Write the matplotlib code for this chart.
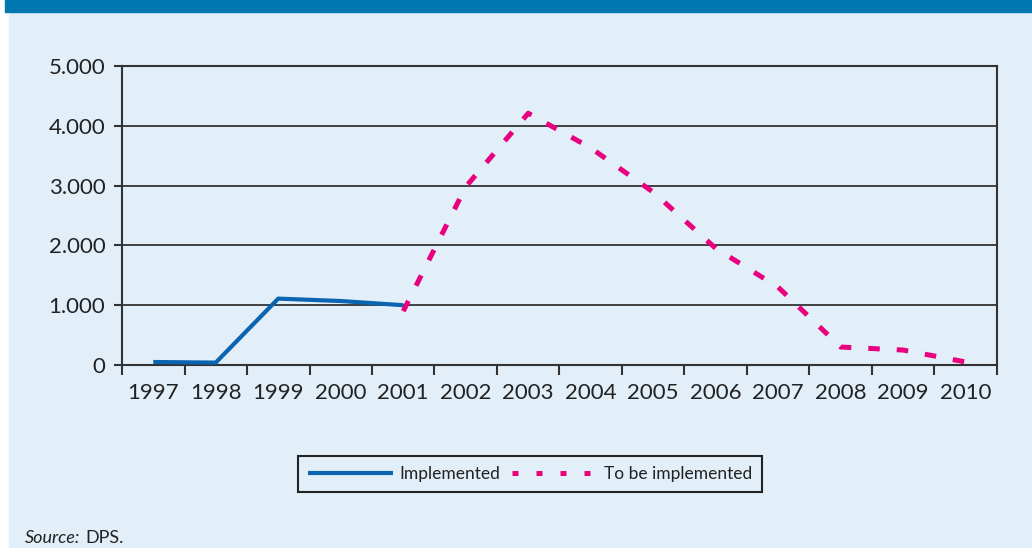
import matplotlib.pyplot as plt
from matplotlib.patches import Rectangle
from matplotlib.ticker import FixedLocator, FuncFormatter

years = ['1997', '1998', '1999', '2000', '2001', '2002', '2003',
         '2004', '2005', '2006', '2007', '2008', '2009', '2010']
implemented = [50, 40, 1110, 1070, 1000]
to_be_implemented = [900, 2980, 4210, 3630, 2890, 1950, 1300, 300, 250, 50]
y_ticks = [0, 1000, 2000, 3000, 4000, 5000]

bg = '#e2eff8'
blue = '#0a64b0'
magenta = '#e8007f'

plt.rcParams['font.family'] = ['Lato', 'DejaVu Sans']

fig = plt.figure(figsize=(10.32, 5.58), dpi=100)
fig.patch.set_facecolor('white')
# panel background and top band
fig.patches.append(Rectangle((9 / 1032, 1 - 547 / 558), 1, (547 - 12) / 558,
                             transform=fig.transFigure, color=bg, zorder=-10))
fig.patches.append(Rectangle((5 / 1032, 1 - 12 / 558), 1, 12 / 558,
                             transform=fig.transFigure, color='#0077b0', zorder=-10))

ax = fig.add_axes([122 / 1032, 1 - 365 / 558, 875 / 1032, 299 / 558])
ax.set_facecolor(bg)
ax.set_zorder(2)

x_impl = list(range(len(implemented)))
x_tbi = list(range(len(implemented) - 1, len(years)))
ax.plot(x_impl, implemented, color=blue, lw=3, solid_capstyle='butt',
        label='Implemented', zorder=3)
ax.plot(x_tbi, to_be_implemented, color=magenta, lw=3.6,
        linestyle=(0, (2.3, 3.4)), dash_capstyle='butt',
        label='To be implemented', zorder=3)

ax.set_xlim(-0.5, len(years) - 0.5)
ax.set_ylim(0, 5000)
ax.set_xticks(range(len(years)))
ax.set_xticklabels(years)
ax.xaxis.set_minor_locator(FixedLocator([i - 0.5 for i in range(len(years) + 1)]))
ax.tick_params(axis='x', which='major', length=0, pad=13, labelsize=16, colors='#222222')
ax.tick_params(axis='x', which='minor', length=7, width=1.5, color='#333333')
ax.set_yticks(y_ticks)
ax.yaxis.set_major_formatter(FuncFormatter(lambda v, p: f'{int(v):,}'.replace(',', '.')))
ax.tick_params(axis='y', length=6, width=1.5, color='#333333', labelsize=16,
               labelcolor='#222222', pad=6)

ax.grid(axis='y', color='#333333', lw=1.3, zorder=1)
for s in ax.spines.values():
    s.set_color('#333333')
    s.set_linewidth(1.5)

leg = fig.legend(loc='center', bbox_to_anchor=(530 / 1032, 1 - 474 / 558), ncol=2,
                 fontsize=12.5, handlelength=4.9, handletextpad=0.35, columnspacing=0.7,
                 fancybox=False, edgecolor='#222222', facecolor=bg, framealpha=1,
                 borderpad=0.6)
leg.get_frame().set_linewidth(1.5)
leg.set_zorder(3)
for t in leg.get_texts():
    t.set_color('#222222')
leg.get_lines()[1].set_linestyle((0, (1.2, 3.6)))

fig.text(25 / 1032, 1 - 538 / 558, 'Source:', fontsize=13, style='italic',
         color='#222222', va='center')
fig.text(85.5 / 1032, 1 - 538 / 558, 'DPS.', fontsize=13, color='#222222', va='center')

fig.savefig('out.png', dpi=100)
